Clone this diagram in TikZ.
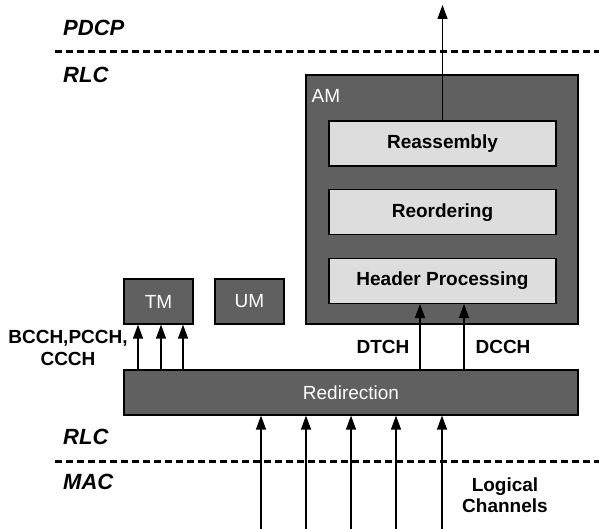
\documentclass[tikz,border=0pt]{standalone}
\usepackage{fontspec}
\setmainfont{Liberation Sans}
\usepackage{xcolor}
\usetikzlibrary{positioning, arrows.meta}

\definecolor{boxdark}{HTML}{606060}
\definecolor{boxlight}{HTML}{DDDDDD}

\begin{document}
\begin{tikzpicture}[
      x=1pt, y=-1pt,
      darkbox/.style={
        rectangle,
        draw=black,
        line width=1.2pt,
        fill=boxdark,
        text=white,
        inner sep=0pt,
        font=\fontsize{19}{22}\selectfont
      },
      stagebox/.style={
        rectangle,
        draw=black,
        line width=1.2pt,
        fill=boxlight,
        minimum width=227pt,
        minimum height=45pt,
        font=\fontsize{19}{22}\selectfont\bfseries
      },
      boxlabel/.style={text=white, inner sep=0pt, font=\fontsize{19}{22}\selectfont},
      layer/.style={anchor=west, inner sep=0pt, font=\fontsize{22}{26}\selectfont\bfseries\itshape},
      chan/.style={align=center, inner sep=0pt, font=\fontsize{19}{21.5}\selectfont\bfseries},
      border/.style={line width=3pt, dash pattern=on 7pt off 4pt},
      >={Triangle[length=14pt,width=10pt]},
      every edge/.style={draw, line width=1.3pt, ->},
      node distance=22.5pt
    ]
    \useasboundingbox (0,0) rectangle (599,529);

    % Layer borders
    \draw[border] (55,52) -- (599,52);
    \draw[border] (55,461) -- (599,461);
    \node[layer] (pdcp) at (63,28) {PDCP};
    \node[layer] (rlctop) at (63,75) {RLC};
    \node[layer] (rlcbot) at (63,437) {RLC};
    \node[layer] (mac) at (63,482) {MAC};

    % Nodes
    \node[darkbox, minimum width=272pt, minimum height=249pt] (am) at (442,199.5) {};
    \node[boxlabel, anchor=north west, xshift=6pt, yshift=-15pt] (amlabel) at (am.north west) {AM};
    \node[stagebox] (reasm) at (442.5,143.5) {Reassembly};
    \node[stagebox, below=of reasm] (reord) {Reordering};
    \node[stagebox, below=of reord] (hdr) {Header Processing};
    \node[darkbox, minimum width=69pt, minimum height=45pt] (tm) at (158.5,301.5) {TM};
    \node[darkbox, minimum width=69pt, minimum height=45pt] (um) at (249.5,301.5) {UM};
    \node[darkbox, minimum width=454pt, minimum height=45pt] (redir) at (351,392.5) {Redirection};

    % Channel labels
    \node[chan] (bcch) at (68,348) {BCCH,PCCH,\\CCCH};
    \node[chan] (dtch) at (383,347) {DTCH};
    \node[chan] (dcch) at (503,347) {DCCH};
    \node[chan] (logch) at (505,495) {Logical\\Channels};

    % Arrows
    \coordinate (up) at (442.5,5);
    \path (reasm.north) edge (up);
    \foreach \dx in {-20.5, 2.5, 24.5}
      \path ([xshift=\dx pt]tm.south |- redir.north) edge ([xshift=\dx pt]tm.south);
    \foreach \dx in {-22.5, 21.5}
      \path ([xshift=\dx pt]hdr.south |- redir.north) edge ([xshift=\dx pt]hdr.south);
    \foreach \px [count=\i] in {261, 306, 351, 396, 442} {
      \coordinate (in\i) at (\px,529);
      \path (in\i) edge (in\i |- redir.south);
    }
  \end{tikzpicture}
\end{document}
